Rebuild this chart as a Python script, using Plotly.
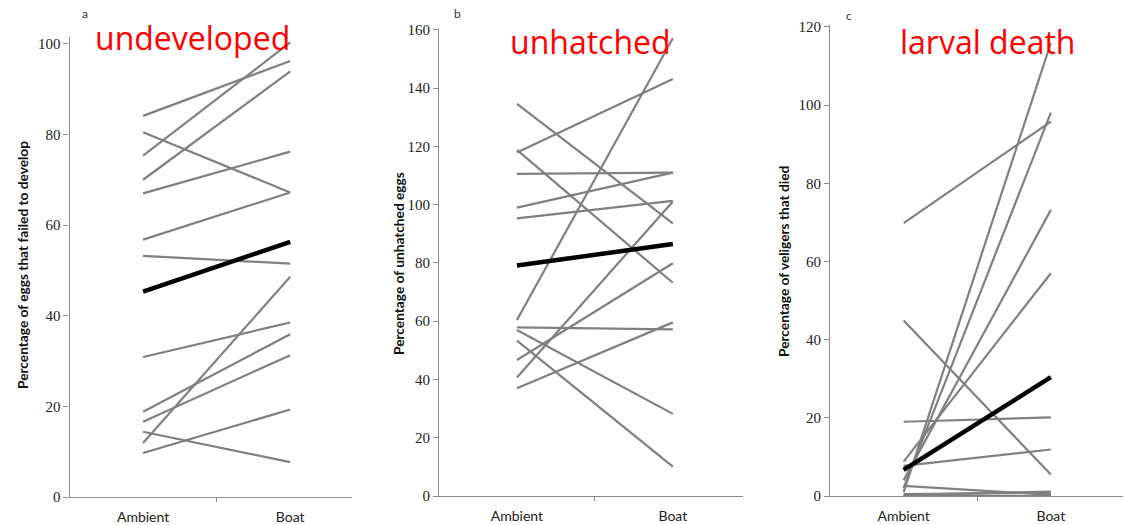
import plotly.graph_objects as go

W, H = 1124, 525

categories = ["Ambient", "Boat"]

# Panel a: percentage of eggs that failed to develop
amb_a = [84.1, 75.3, 70.0, 80.5, 67.0, 56.8, 53.2, 30.9, 18.8, 16.6, 11.9, 14.4, 9.7]
boat_a = [96.2, 100.3, 93.9, 67.2, 76.2, 67.2, 51.5, 38.5, 35.9, 31.3, 48.6, 7.7, 19.3]
mean_a = [45.3, 56.3]

# Panel b: percentage of unhatched eggs
amb_b = [134.6, 117.9, 118.8, 110.6, 99.0, 95.3, 60.4, 46.7, 40.7, 57.9, 57.0, 53.3, 37.0]
boat_b = [93.6, 143.1, 73.2, 111.0, 111.0, 101.3, 157.1, 79.9, 101.1, 57.2, 28.2, 10.1, 59.6]
mean_b = [79.1, 86.5]

# Panel c: percentage of veligers that died
amb_c = [69.8, 44.9, 19.0, 7.7, 2.6, 0.3, 0.0, 1.0, 2.0, 4.0, 8.8, 0.5]
boat_c = [95.8, 5.5, 20.1, 11.9, 0.3, 1.1, 0.0, 115.9, 98.1, 73.2, 57.0, 0.8]
mean_c = [6.7, 30.4]

panels = [
    dict(amb=amb_a, boat=boat_a, mean=mean_a, x0=69.5, x1=352, xr=[-0.5, 1.42],
         ybot=497, ytop=37, yr=[0, 101.5], ytick=20,
         ytitle="Percentage of eggs that failed to develop", ytx=22, yty=265,
         letter="a", lx=85, ly=14, title="undeveloped", tx=192, ty=37),
    dict(amb=amb_b, boat=boat_b, mean=mean_b, x0=439, x1=743, xr=[-0.5, 1.45],
         ybot=496, ytop=29, yr=[0, 160.3], ytick=20,
         ytitle="Percentage of unhatched eggs", ytx=398, yty=264,
         letter="b", lx=457, ly=14, title="unhatched", tx=591, ty=41),
    dict(amb=amb_c, boat=boat_c, mean=mean_c, x0=830, x1=1123, xr=[-0.5, 1.49],
         ybot=496, ytop=25, yr=[0, 120.5], ytick=20,
         ytitle="Percentage of veligers that died", ytx=783, yty=262,
         letter="c", lx=849, ly=15, title="larval death", tx=987, ty=41),
]

fig = go.Figure()
annotations = []
axis_gray = "#8c8c8c"

for i, p in enumerate(panels, start=1):
    xa = "x" if i == 1 else f"x{i}"
    ya = "y" if i == 1 else f"y{i}"
    for a, b in zip(p["amb"], p["boat"]):
        fig.add_trace(go.Scatter(x=[0, 1], y=[a, b], mode="lines",
                                 line=dict(color="#808080", width=2.2),
                                 xaxis=xa, yaxis=ya, showlegend=False, hoverinfo="skip"))
    fig.add_trace(go.Scatter(x=[0, 1], y=p["mean"], mode="lines",
                             line=dict(color="#000000", width=4.5),
                             xaxis=xa, yaxis=ya, showlegend=False, hoverinfo="skip"))
    xkey = "xaxis" if i == 1 else f"xaxis{i}"
    ykey = "yaxis" if i == 1 else f"yaxis{i}"
    fig.layout[xkey] = dict(
        domain=[p["x0"] / W, p["x1"] / W], range=p["xr"], anchor=ya,
        tickmode="array", tickvals=[0, 1], ticktext=categories, ticks="",
        minor=dict(tickmode="array", tickvals=[0.5], ticks="outside", ticklen=4,
                   tickcolor=axis_gray, tickwidth=1),
        showline=True, linecolor=axis_gray, linewidth=1.2, showgrid=False, zeroline=False,
        tickfont=dict(family="Lato, Open Sans, sans-serif", size=14, color="#222"),
        ticklabelstandoff=7, automargin=False, fixedrange=True,
    )
    fig.layout[ykey] = dict(
        domain=[1 - p["ybot"] / H, 1 - p["ytop"] / H], range=p["yr"], anchor=xa,
        tickmode="linear", tick0=0, dtick=p["ytick"], ticks="outside", ticklen=5,
        tickcolor=axis_gray, showline=True, linecolor=axis_gray, linewidth=1.2,
        showgrid=False, zeroline=False,
        tickfont=dict(family="Liberation Serif, serif", size=15, color="#222"),
        automargin=False, fixedrange=True,
    )
    annotations.append(dict(text=p["ytitle"], x=p["ytx"] / W, y=1 - p["yty"] / H,
                            xref="paper", yref="paper", textangle=-90, showarrow=False,
                            xanchor="center", yanchor="middle",
                            font=dict(family="Lato, sans-serif", size=13.7, color="#111", weight="bold")))
    annotations.append(dict(text=p["letter"], x=p["lx"] / W, y=1 - p["ly"] / H,
                            xref="paper", yref="paper", showarrow=False,
                            xanchor="center", yanchor="middle",
                            font=dict(family="Lato, sans-serif", size=12, color="#333")))
    annotations.append(dict(text=p["title"], x=p["tx"] / W, y=1 - p["ty"] / H,
                            xref="paper", yref="paper", showarrow=False,
                            xanchor="center", yanchor="middle",
                            font=dict(family="Open Sans, sans-serif", size=32, color="#ff0000")))

fig.update_layout(width=W, height=H, margin=dict(l=0, r=0, t=0, b=0, autoexpand=False),
                  paper_bgcolor="white", plot_bgcolor="white",
                  annotations=annotations, showlegend=False)

fig.write_html("out.html", config={"displayModeBar": False})
